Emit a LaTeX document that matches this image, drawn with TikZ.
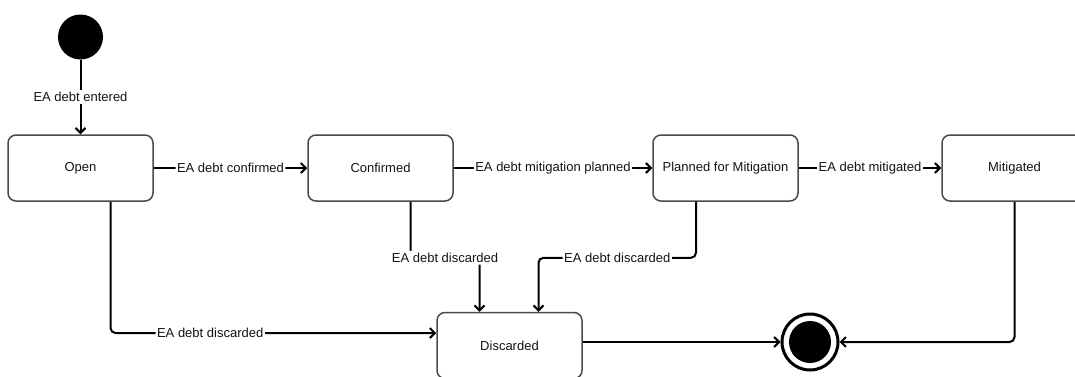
\documentclass[tikz,border=0pt]{standalone}
\usepackage{fontspec}
\setmainfont{Liberation Sans}
\usetikzlibrary{arrows.meta,calc}
\definecolor{boxgray}{HTML}{4A4A4A}
\definecolor{txt}{HTML}{141414}
\begin{document}
\begin{tikzpicture}[x=1pt,y=-1pt,
  state/.style={draw=boxgray, line width=1.5pt, rounded corners=8pt,
    minimum width=145pt, minimum height=66pt, inner sep=0pt, fill=white,
    font=\fontsize{13}{15}\selectfont, text=txt},
  conn/.style={draw=black, line width=2pt, rounded corners=5pt,
    -{Straight Barb[length=5pt,width=10pt]}},
  lbl/.style={fill=white, inner xsep=1.5pt, inner ysep=2pt,
    font=\fontsize{13}{15}\selectfont, text=txt},
  initstate/.style={circle, fill=black, minimum size=45pt, inner sep=0pt},
  finalstate/.style={circle, draw=black, line width=3pt, fill=white,
    minimum size=56pt, inner sep=0pt,
    path picture={\fill[black] (path picture bounding box.center) circle (21pt);}}
]
\clip (0,0) rectangle (1075,376);
\useasboundingbox (0,0) rectangle (1075,376);

% states
\node[initstate]  (init) at (80.5,37) {};
\node[state]      (open) at (80.5,168) {Open};
\node[state]      (conf) at (380.5,168) {Confirmed};
\node[state]      (plan) at (725.5,168) {Planned for Mitigation};
\node[state]      (mit)  at (1014.5,168) {Mitigated};
\node[state]      (disc) at (509.5,345.5) {Discarded};
\node[finalstate] (fin)  at (810,342) {};

% transitions
\draw[conn] (init) -- node[lbl, pos=0.5] {EA debt entered} (open);
\draw[conn] (open) -- node[lbl] {EA debt confirmed} (conf);
\draw[conn] (conf) -- node[lbl] {EA debt mitigation planned} (plan);
\draw[conn] (plan) -- node[lbl] {EA debt mitigated} (mit);

\draw[conn] ($(open.south)+(30,0)$) |- node[lbl, pos=0.653] {EA debt discarded}
  ($(disc.west)+(0,-12.5)$);
\draw[conn] ($(conf.south)+(30,0)$) -- ++(0,56) -| node[lbl, pos=0.25] {EA debt discarded}
  ($(disc.north)+(-30,0)$);
\draw[conn] ($(plan.south)+(-29.5,0)$) -- ++(0,56) -| node[lbl, pos=0.25] {EA debt discarded}
  ($(disc.north)+(29,0)$);

\draw[conn] (fin.west -| disc.east) -- (fin.west);
\draw[conn] (mit.south) |- (fin.east);
\end{tikzpicture}
\end{document}
